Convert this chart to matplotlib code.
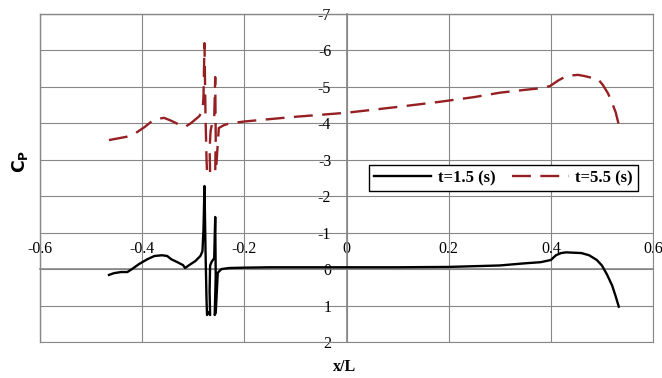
import matplotlib.pyplot as plt
from matplotlib.ticker import MultipleLocator, FuncFormatter

# t = 1.5 s
x_t15 = [-0.465, -0.455, -0.441, -0.429, -0.420, -0.406, -0.390, -0.376, -0.361, -0.351,
         -0.343, -0.331, -0.320, -0.316, -0.308, -0.296, -0.286, -0.282, -0.280, -0.278,
         -0.276, -0.274, -0.273, -0.270, -0.267, -0.268, -0.267, -0.264, -0.259, -0.257,
         -0.256, -0.258, -0.256, -0.252, -0.245, -0.230, -0.200, -0.150, -0.100, 0.000,
         0.100, 0.200, 0.250, 0.300, 0.350, 0.380, 0.400, 0.410, 0.420, 0.430,
         0.445, 0.460, 0.475, 0.490, 0.500, 0.510, 0.520, 0.527, 0.533]
cp_t15 = [0.16, 0.11, 0.08, 0.08, 0.0, -0.14, -0.27, -0.36, -0.38, -0.36,
          -0.27, -0.19, -0.11, -0.03, -0.11, -0.22, -0.36, -0.49, -1.07, -2.28,
          -0.52, 0.85, 1.26, 1.18, 1.26, 0.6, -0.1, -0.2, -0.3, -1.43,
          0.2, 1.26, 1.2, 0.1, 0.0, -0.03, -0.04, -0.05, -0.05, -0.05,
          -0.05, -0.06, -0.08, -0.10, -0.16, -0.19, -0.25, -0.38, -0.44, -0.46,
          -0.45, -0.44, -0.38, -0.25, -0.1, 0.15, 0.45, 0.75, 1.03]

# t = 5.5 s
x_t55 = [-0.465, -0.45, -0.431, -0.412, -0.395, -0.38, -0.367, -0.357, -0.343, -0.327,
         -0.316, -0.304, -0.288, -0.282, -0.280, -0.278, -0.276, -0.274, -0.273, -0.270,
         -0.267, -0.268, -0.266, -0.263, -0.259, -0.257, -0.256, -0.257, -0.255, -0.250,
         -0.240, -0.229, -0.200, -0.170, -0.100, 0.000, 0.100, 0.182, 0.250, 0.300,
         0.350, 0.378, 0.398, 0.415, 0.431, 0.453, 0.465, 0.480, 0.492, 0.502,
         0.512, 0.520, 0.527, 0.533]
cp_t55 = [-3.54, -3.58, -3.63, -3.74, -3.9, -4.07, -4.13, -4.15, -4.07, -3.96,
          -3.9, -4.01, -4.2, -4.35, -4.7, -6.2, -4.2, -3.0, -2.66, -2.75,
          -2.66, -3.3, -3.8, -4.0, -4.1, -5.27, -3.6, -2.66, -2.8, -3.87,
          -3.95, -4.0, -4.05, -4.09, -4.18, -4.29, -4.45, -4.59, -4.72, -4.84,
          -4.92, -4.96, -5.02, -5.18, -5.3, -5.33, -5.3, -5.25, -5.22, -5.05,
          -4.82, -4.56, -4.3, -3.96]

plt.rcParams['font.family'] = ['Liberation Serif', 'DejaVu Serif']
plt.rcParams['axes.unicode_minus'] = False

fig = plt.figure(figsize=(6.62, 3.78), dpi=100)
ax = fig.add_axes([40 / 662, 1 - 342 / 378, 613 / 662, 328 / 378])

grid_col = '#878787'
ax.plot(x_t15, cp_t15, color='black', lw=1.7, label='t=1.5 (s)', zorder=3)
ax.plot(x_t55, cp_t55, color='#951F22', lw=1.7, dashes=(8, 4), label='t=5.5 (s)', zorder=3)

ax.set_xlim(-0.6, 0.6)
ax.set_ylim(2, -7)
ax.xaxis.set_major_locator(MultipleLocator(0.2))
ax.yaxis.set_major_locator(MultipleLocator(1))
ax.xaxis.set_major_formatter(FuncFormatter(lambda v, p: '{:g}'.format(round(v, 1)) if abs(v) > 1e-9 else '0'))
ax.yaxis.set_major_formatter(FuncFormatter(lambda v, p: '{:g}'.format(round(v)) if abs(v) > 1e-9 else '0'))
ax.grid(True, color=grid_col, lw=0.8)
ax.set_axisbelow(True)

# axes cross at zero, x labels sit above the zero line
ax.xaxis.tick_top()
ax.spines['top'].set_position(('data', 0))
ax.spines['left'].set_position(('data', 0))
for s in ax.spines.values():
    s.set_color(grid_col)
    s.set_linewidth(1.2)
ax.spines['bottom'].set_linewidth(0.8)
ax.spines['right'].set_linewidth(0.8)
# frame lines at -0.6 and -7
ax.plot([-0.6, -0.6], [2, -7], color=grid_col, lw=1.0, clip_on=False, zorder=1)
ax.plot([-0.6, 0.6], [-7, -7], color=grid_col, lw=1.0, clip_on=False, zorder=1)

ax.tick_params(axis='x', length=0, pad=9, labelsize=11.5)
ax.tick_params(axis='y', length=0, pad=11, labelsize=11.5)

fig.text(20 / 662, 1 - 161 / 378, r'$\mathbf{C_P}$', rotation=90, ha='center', va='center',
         fontsize=12.5, fontfamily='serif')
fig.text(345 / 662, 1 - 367 / 378, 'x/L', ha='center', va='center', fontsize=11.5,
         fontweight='bold')

leg = ax.legend(loc='upper right', bbox_to_anchor=(638 / 662, 1 - 165 / 378),
                bbox_transform=fig.transFigure, ncol=2, frameon=True, fancybox=False,
                borderaxespad=0, handlelength=3.4, columnspacing=1.0, handletextpad=0.4,
                prop={'weight': 'bold', 'size': 12}, borderpad=0.3)
leg.get_frame().set_edgecolor('black')
leg.get_frame().set_linewidth(1.0)
leg.get_frame().set_alpha(1)

fig.savefig('out.png', dpi=100)
